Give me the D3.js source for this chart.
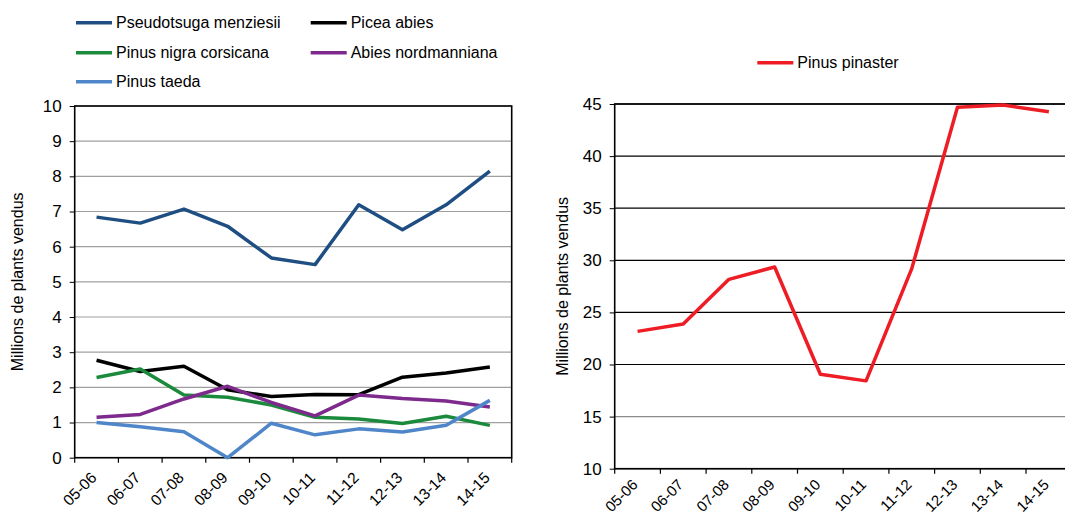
<!DOCTYPE html>
<html><head><meta charset="utf-8">
<script src="https://cdn.jsdelivr.net/npm/d3@7/dist/d3.min.js"></script>
<style>
html,body{margin:0;padding:0;background:#fff;}
svg text{font-family:"Liberation Sans",Arial,sans-serif;fill:#000;}
</style></head>
<body><svg id="c" width="1065" height="518"></svg>
<script>
const seasons = ["05-06","06-07","07-08","08-09","09-10","10-11","11-12","12-13","13-14","14-15"];
const pseudotsuga = [6.84,6.67,7.07,6.58,5.68,5.49,7.19,6.48,7.19,8.15];
const picea = [2.77,2.45,2.60,1.93,1.74,1.80,1.79,2.29,2.41,2.58];
const pinusNigra = [2.28,2.52,1.78,1.72,1.50,1.15,1.10,0.97,1.18,0.92];
const abies = [1.15,1.23,1.67,2.03,1.57,1.19,1.78,1.68,1.61,1.44];
const pinusTaeda = [1.00,0.88,0.74,0.00,0.98,0.65,0.82,0.73,0.92,1.63];
const pinaster = [23.18,23.88,28.17,29.36,19.07,18.43,29.2,44.68,44.9,44.26];
const leftTicks = [0,1,2,3,4,5,6,7,8,9,10];
const rightTicks = [10,15,20,25,30,35,40,45];
const yTitle = "Millions de plants vendus";

const leftSeries = [
  {name:"Pseudotsuga menziesii", values:pseudotsuga, color:"#1f4e82"},
  {name:"Picea abies", values:picea, color:"#000000"},
  {name:"Pinus nigra corsicana", values:pinusNigra, color:"#1c8a3c"},
  {name:"Abies nordmanniana", values:abies, color:"#7d2a8c"},
  {name:"Pinus taeda", values:pinusTaeda, color:"#4f86c9"}
];
const rightSeries = [{name:"Pinus pinaster", values:pinaster, color:"#ee1c25"}];

const svg = d3.select("#c");

function panel(o){
  const g = svg.append("g");
  const x = d3.scaleBand().domain(seasons).range([o.x0,o.x1]);
  const y = d3.scaleLinear().domain(o.domain).range([o.y1,o.y0]);
  g.selectAll(".grid").data(o.ticks).join("line")
    .attr("x1",o.x0).attr("x2",o.x1)
    .attr("y1",d=>y(d)).attr("y2",d=>y(d))
    .attr("stroke",d=>o.gridColor(d)).attr("stroke-width",1.2);
  const ya = d3.axisLeft(y).tickValues(o.ticks).tickSize(5).tickPadding(o.tickPad).tickFormat(d3.format("d"));
  const yg = g.append("g").attr("transform",`translate(${o.x0},0)`).call(ya);
  yg.select(".domain").remove();
  yg.selectAll("line").attr("stroke","#000");
  yg.selectAll("text").style("font-size","17px");
  const bounds = seasons.map(s=>x(s)).concat([o.x1]);
  g.selectAll(".xt").data(bounds).join("line")
    .attr("x1",d=>d).attr("x2",d=>d).attr("y1",o.y1).attr("y2",o.y1+5)
    .attr("stroke","#000").attr("stroke-width",1.2);
  g.append("rect").attr("x",o.x0).attr("y",o.y0).attr("width",o.x1-o.x0).attr("height",o.y1-o.y0)
    .attr("fill","none").attr("stroke","#000").attr("stroke-width",1.6);
  g.selectAll(".xl").data(seasons).join("text")
    .attr("transform",d=>`translate(${x(d)+x.bandwidth()/2+1},${o.y1+o.labOff}) rotate(-45)`)
    .attr("text-anchor","end").style("font-size",o.labSize).text(d=>d);
  const line = d3.line().x((d,i)=>x(seasons[i])+x.bandwidth()/2).y(d=>y(d));
  g.selectAll(".ser").data(o.series).join("path")
    .attr("d",d=>line(d.values)).attr("fill","none")
    .attr("stroke",d=>d.color).attr("stroke-width",3.5).attr("stroke-linejoin","round");
  g.append("text").attr("transform",`translate(${o.titleX},${(o.y0+o.y1)/2}) rotate(-90)`)
    .attr("text-anchor","middle").style("font-size","16px").text(yTitle);
  o.legend.forEach((p,i)=>{
    const s = o.series[i];
    g.append("line").attr("x1",p[0]).attr("x2",p[0]+36).attr("y1",p[1]).attr("y2",p[1])
      .attr("stroke",s.color).attr("stroke-width",3.5);
    g.append("text").attr("x",p[0]+40).attr("y",p[1]).attr("dy","0.35em")
      .style("font-size","16px").text(s.name);
  });
}

panel({x0:74.7,x1:511.7,y0:106,y1:457.7,domain:[0,10],ticks:leftTicks,series:leftSeries,
  gridColor:()=>"#a0a0a0",tickPad:8,labOff:21,labSize:"15.5px",titleX:23,
  legend:[[76,22.7],[310.7,22.7],[76,52.7],[310.7,52.7],[76,81.7]]});
panel({x0:614.7,x1:1071.7,y0:104,y1:468.7,domain:[10,45],ticks:rightTicks,series:rightSeries,
  gridColor:d=>d===15?"#8c8c8c":"#000",tickPad:8,labOff:17,labSize:"15px",titleX:568,
  legend:[[757.3,62.7]]});
</script></body></html>
